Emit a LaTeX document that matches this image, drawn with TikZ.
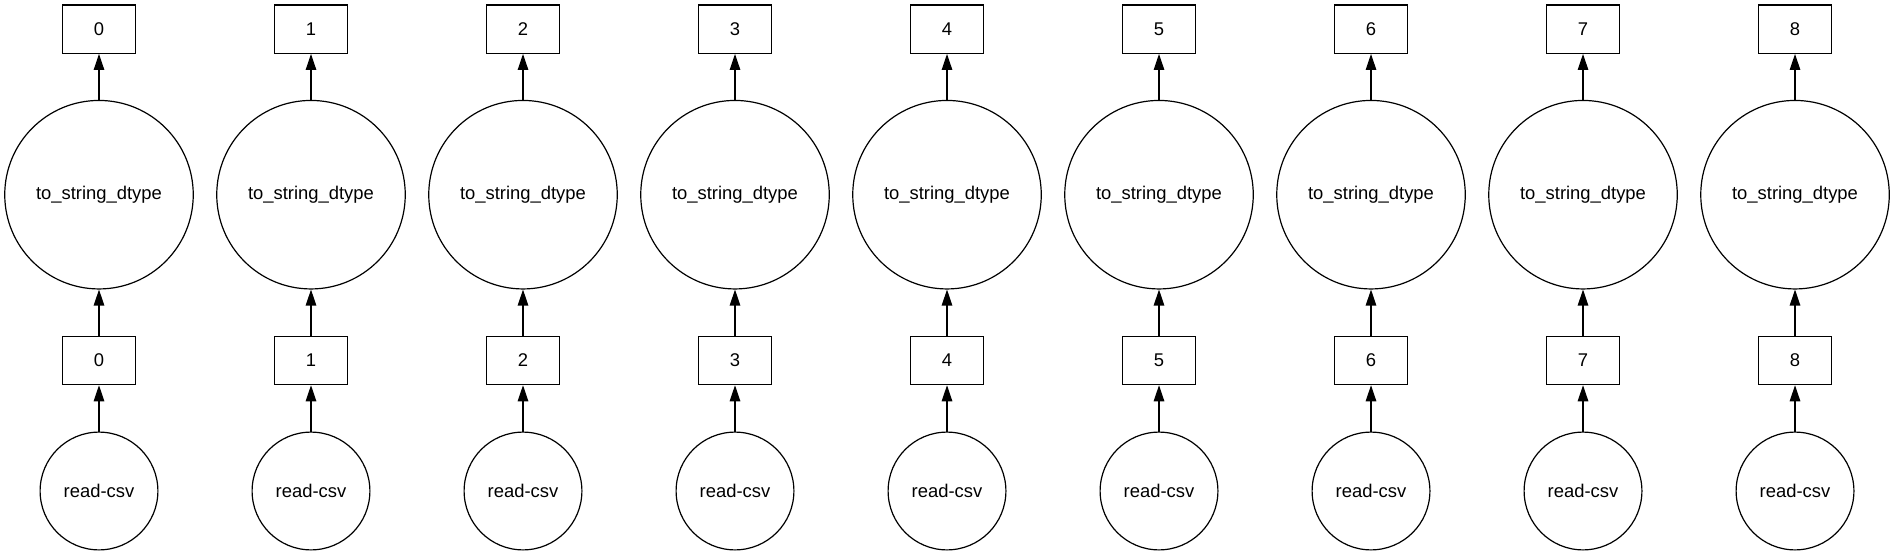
\documentclass[tikz,border=0pt]{standalone}
\usepackage{fontspec}
\setmainfont{Liberation Sans}
\usetikzlibrary{shapes.geometric,arrows.meta}
\begin{document}
\begin{tikzpicture}[x=1pt,y=-1pt,
  every node/.style={font=\fontsize{18.4}{21}\selectfont, text=black, line width=1.2pt, inner sep=0pt},
  keybox/.style={draw, rectangle, minimum width=72.6pt, minimum height=48.3pt},
  bigop/.style={draw, circle, minimum size=188.5pt},
  smallop/.style={draw, circle, minimum size=117.8pt},
  arr/.style={line width=1.2pt, -{Triangle[length=16pt,width=10.5pt]}}]
\useasboundingbox (0,0) rectangle (1894,556);
\foreach \i in {0,...,8} {
  \pgfmathsetmacro{\cx}{99+212*\i}
  \node[keybox] (top\i) at (\cx,29.2) {\i};
  \node[bigop] (big\i) at (\cx,194.7) {to\_string\_dtype};
  \node[keybox] (mid\i) at (\cx,360.5) {\i};
  \node[smallop] (rd\i) at (\cx,491) {read-csv};
  \draw[arr] (rd\i) -- (mid\i);
  \draw[arr] (mid\i) -- (big\i);
  \draw[arr] (big\i) -- (top\i);
}
\end{tikzpicture}
\end{document}
